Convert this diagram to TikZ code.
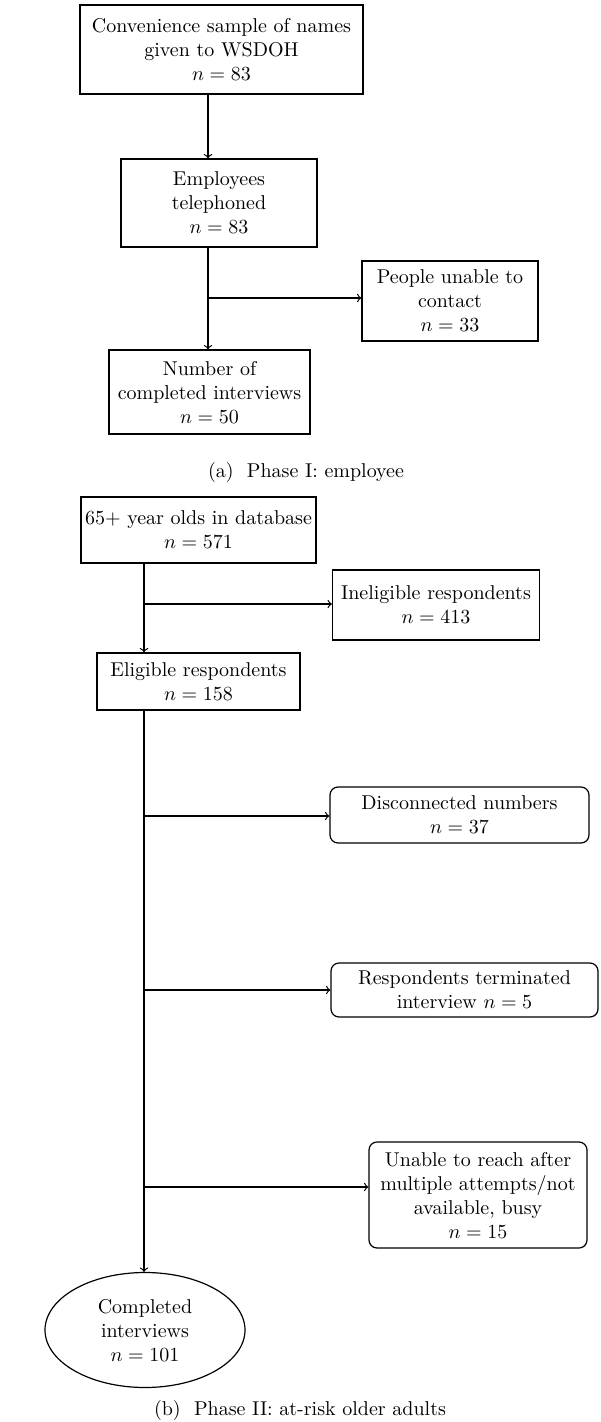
\documentclass[tikz,border=0pt]{standalone}
\usetikzlibrary{shapes.geometric}
\begin{document}
\begin{tikzpicture}[
        x=0.5pt, y=-0.5pt,
        box/.style={rectangle, draw, semithick, align=center, inner sep=2pt},
        rbox/.style={box, rounded corners=4pt},
        oval/.style={ellipse, draw, semithick, align=center, inner sep=0pt},
        arrow/.style={->, semithick},
        line/.style={-, semithick}
    ]
        \useasboundingbox (0,0) rectangle (600,1422);

        % Phase I
        \node[box, minimum width=141.5pt, minimum height=44.5pt] (sample) at (221.5,49.5) {Convenience sample of names\\given to WSDOH\\$n = 83$};
        \node[box, minimum width=98pt, minimum height=44pt] (phoned) at (219,203) {Employees\\telephoned\\$n = 83$};
        \node[box, minimum width=88pt, minimum height=40pt] (nocontact) at (450,301) {People unable to\\contact\\$n = 33$};
        \node[box, minimum width=100.5pt, minimum height=42pt] (doneA) at (209.5,392) {Number of\\completed interviews\\$n = 50$};
        \node (capA) at (306,472) {(a)\ \ Phase I: employee};

        % Phase II
        \node[box, minimum width=101.5pt, minimum height=33pt] (base) at (198.5,530) {65+ year olds in database\\$n = 571$};
        \node[box, minimum width=103.5pt, minimum height=35pt] (inelig) at (436,605) {Ineligible respondents\\$n = 413$};
        \node[box, minimum width=101.5pt, minimum height=28.5pt] (elig) at (198.5,681.5) {Eligible respondents\\$n = 158$};
        \node[rbox, minimum width=129.5pt, minimum height=28pt] (disc) at (459.5,815) {Disconnected numbers\\$n = 37$};
        \node[rbox, minimum width=133.5pt, minimum height=27pt] (term) at (464.5,990) {Respondents terminated\\interview $n = 5$};
        \node[rbox, minimum width=109pt, minimum height=53pt] (reach) at (478,1195) {Unable to reach after\\multiple attempts/not\\available, busy\\$n = 15$};
        \node[oval, minimum width=100pt, minimum height=57.5pt] (doneB) at (145,1330) {Completed\\interviews\\$n = 101$};
        \node (capB) at (300,1410) {(b)\ \ Phase II: at-risk older adults};

        % Trunks and splits
        \coordinate (trunkA) at (208,0);
        \coordinate (splitA) at (208,298);
        \coordinate (trunkB) at (144,0);
        \coordinate (split1) at (144,604);
        \coordinate (split2) at (144,816);
        \coordinate (split3) at (144,990);
        \coordinate (split4) at (144,1187);

        % Transitions
        \draw[arrow] (sample.south -| trunkA) -- (phoned.north -| trunkA);
        \draw[arrow] (phoned.south -| trunkA) -- (doneA.north -| trunkA);
        \draw[arrow] (splitA) -- (splitA -| nocontact.west);
        \draw[arrow] (base.south -| trunkB) -- (elig.north -| trunkB);
        \draw[arrow] (split1) -- (split1 -| inelig.west);
        \draw[arrow] (elig.south -| trunkB) -- (doneB.north -| trunkB);
        \draw[arrow] (split2) -- (split2 -| disc.west);
        \draw[arrow] (split3) -- (split3 -| term.west);
        \draw[arrow] (split4) -- (split4 -| reach.west);
    \end{tikzpicture}
\end{document}
